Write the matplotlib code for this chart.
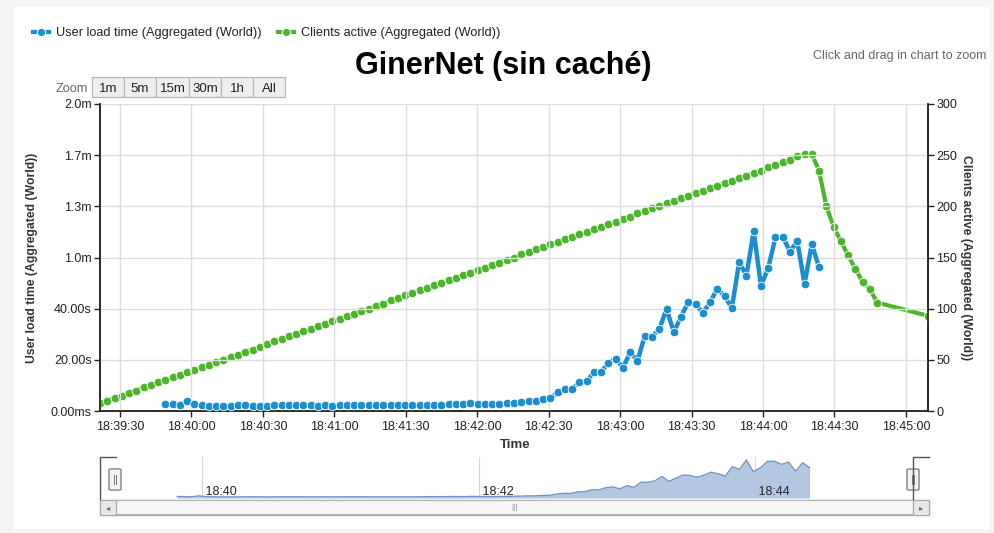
import pandas as pd
import matplotlib
matplotlib.use("Agg")
import matplotlib.pyplot as plt
import matplotlib.dates as mdates
from matplotlib.patches import Rectangle, FancyBboxPatch
from matplotlib.lines import Line2D

plt.rcParams['font.family'] = ['Liberation Sans', 'DejaVu Sans']

# Sampling grid: one sample roughly every 3 s
sample_start = pd.Timestamp("2013-05-10 18:39:21.6")
sample_step_s = 3.05

# Clients active (Aggregated (World)) -> right axis
clients_samples = list(range(0, 108)) + [114]
clients_active = [
    8, 10, 13, 15, 18, 20, 23, 25, 28, 30,
    33, 35, 38, 40, 43, 45, 48, 50, 53, 55,
    58, 60, 63, 65, 68, 70, 73, 75, 78, 80,
    83, 85, 88, 90, 93, 95, 98, 100, 103, 105,
    108, 110, 113, 115, 118, 120, 123, 125, 128, 130,
    133, 135, 138, 140, 143, 145, 148, 150, 153, 155,
    158, 160, 163, 165, 168, 170, 173, 175, 178, 180,
    183, 185, 188, 190, 193, 195, 198, 200, 203, 205,
    208, 210, 213, 215, 218, 220, 223, 225, 228, 230,
    233, 235, 238, 240, 243, 245, 249, 251, 251, 235,
    200, 180, 166, 152, 139, 126, 119, 106,
    93,
]

# User load time (Aggregated (World)) in seconds -> left axis
load_samples = list(range(9, 100))
load_time_s = [
    2.7, 2.6, 2.2, 3.9, 2.7, 2.2, 2.1, 2.1, 2.1, 2.1,
    2.3, 2.2, 2.1, 2.1, 2.1, 2.3, 2.2, 2.3, 2.2, 2.2,
    2.2, 2.1, 2.2, 2.1, 2.3, 2.3, 2.3, 2.2, 2.2, 2.2,
    2.2, 2.2, 2.2, 2.2, 2.2, 2.3, 2.5, 2.5, 2.5, 2.7,
    2.6, 2.6, 3.0, 2.7, 2.7, 2.6, 2.7, 3.0, 3.2, 3.5,
    4.0, 3.9, 4.8, 4.9, 7.3, 8.6, 8.5, 11.3, 11.6, 15.1,
    15.2, 18.9, 20.5, 16.9, 22.9, 19.7, 29.3, 29.1, 31.9, 39.9,
    30.8, 36.9, 42.6, 41.7, 38.4, 42.5, 47.8, 44.8, 40.3, 58.2,
    52.9, 70.4, 48.9, 55.9, 67.9, 68.1, 62.3, 66.5, 49.6, 65.2, 56.2,
]

left_ticks = [0, 20, 40, 60, 80, 100, 120]
left_tick_labels = ['0.00ms', '20.00s', '40.00s', '1.0m', '1.3m', '1.7m', '2.0m']
right_ticks = [0, 50, 100, 150, 200, 250, 300]
zoom_buttons = ['1m', '5m', '15m', '30m', '1h', 'All']
nav_labels = ['18:40', '18:42', '18:44']

title = 'GinerNet (sin caché)'
blue_name = 'User load time (Aggregated (World))'
green_name = 'Clients active (Aggregated (World))'

BLUE = '#1a8ecf'
GREEN = '#4cb52b'
GRID = '#dcdcdc'
TXT = '#333333'

W, H = 994, 533


def to_times(samples):
    return [sample_start + pd.Timedelta(seconds=s * sample_step_s) for s in samples]


def frect(x0, y0, x1, y1):
    return [x0 / W, 1 - y1 / H, (x1 - x0) / W, (y1 - y0) / H]


def fx(x):
    return x / W


def fy(y):
    return 1 - y / H


clients_t = to_times(clients_samples)
load_t = to_times(load_samples)

fig = plt.figure(figsize=(W / 100, H / 100), dpi=100)
fig.patch.set_facecolor('#f5f5f5')
fig.patches.append(Rectangle((fx(14), fy(529)), fx(976), 522 / H, transform=fig.transFigure,
                             facecolor='white', edgecolor='none', zorder=-5))

# ---- main chart
ax = fig.add_axes(frect(100, 104, 928, 411))
ax2 = ax.twinx()
ax.set_zorder(ax2.get_zorder() + 1)
ax.patch.set_visible(False)

ax2.plot(clients_t, clients_active, color=GREEN, lw=3, marker='o', ms=6.2,
         mec='white', mew=0.6, solid_capstyle='round', zorder=3)
ax.plot(load_t, load_time_s, color=BLUE, lw=3.2, marker='o', ms=6.2,
        mec='white', mew=0.6, solid_capstyle='round', zorder=3)

xmin, xmax = clients_t[0], clients_t[-1]
ax.set_xlim(xmin, xmax)
ax.set_ylim(0, 120)
ax2.set_ylim(0, 300)

ax.xaxis.set_major_locator(mdates.SecondLocator(bysecond=[0, 30]))
ax.xaxis.set_major_formatter(mdates.DateFormatter('%H:%M:%S'))
ax.set_yticks(left_ticks)
ax.set_yticklabels(left_tick_labels)
ax2.set_yticks(right_ticks)

ax.grid(True, color=GRID, lw=1)
ax.set_axisbelow(True)
for a in (ax, ax2):
    a.spines['top'].set_visible(False)
    for s in ('left', 'right', 'bottom'):
        a.spines[s].set_color('#222222')
        a.spines[s].set_linewidth(1.1)
    a.tick_params(labelsize=9, colors='#222222', length=4, width=1, pad=2)
ax.tick_params(axis='x', pad=3)

ax.set_ylabel(blue_name, fontsize=8.8, fontweight='bold', color=TXT)
ax.yaxis.set_label_coords(-0.075, 0.5)
ax2.set_ylabel(green_name, fontsize=8.8, fontweight='bold', color=TXT, rotation=-90)
ax2.yaxis.set_label_coords(1.053, 0.5)
ax.set_xlabel('Time', fontsize=9.5, fontweight='bold', color=TXT)
ax.xaxis.set_label_coords(0.501, -0.09)

fig.text(fx(503), fy(66), title, fontsize=22, fontweight='bold', ha='center', va='center',
         color='black')
fig.text(fx(986), fy(56), 'Click and drag in chart to zoom', fontsize=9, color='#666666',
         ha='right', va='center')

# ---- legend
for x0, color, label in ((33, BLUE, blue_name), (278, GREEN, green_name)):
    fig.add_artist(Line2D([fx(x0), fx(x0 + 16)], [fy(32), fy(32)], color=color, lw=3,
                          transform=fig.transFigure))
    fig.add_artist(Line2D([fx(x0 + 8)], [fy(32)], color=color, marker='o', ms=6,
                          mec='white', mew=0.8, transform=fig.transFigure))
    fig.text(fx(x0 + 23), fy(32.5), label, fontsize=9.2, color='#222222', va='center')

# ---- zoom buttons
fig.text(fx(88), fy(88.5), 'Zoom', fontsize=9.2, color='#666666', ha='right', va='center')
edges = [92, 124, 156, 189, 221, 253, 285]
for i, lab in enumerate(zoom_buttons):
    fig.patches.append(Rectangle((fx(edges[i]), fy(97)), (edges[i + 1] - edges[i]) / W, 20 / H,
                                 transform=fig.transFigure, facecolor='#eeeeee',
                                 edgecolor='#b8b8b8', lw=0.9))
    fig.text(fx((edges[i] + edges[i + 1]) / 2), fy(88.5), lab, fontsize=9.5, color='#222222',
             ha='center', va='center')

# ---- navigator
nav = fig.add_axes(frect(114, 457, 915, 498))
nav.fill_between(load_t, load_time_s, 0, color='#b4c7e0', lw=0)
nav.plot(load_t, load_time_s, color='#7594c3', lw=1)
nav.set_xlim(xmin, xmax)
nav.set_ylim(0, 76)
for s in nav.spines.values():
    s.set_visible(False)
nav.set_yticks([])
nav.xaxis.set_major_locator(mdates.MinuteLocator(byminute=[40, 42, 44]))
nav.set_xticklabels([])
nav.tick_params(axis='x', length=0)
nav.grid(True, axis='x', color='#d6d6d6', lw=0.8)
nav.set_axisbelow(True)
for lab, tk in zip(nav_labels, nav.get_xticks()):
    nav.text(tk, 11, ' ' + lab, fontsize=9, color='#222222', ha='left', va='center')

# navigator outline and handles
fig.add_artist(Line2D([fx(116), fx(100), fx(100)], [fy(457), fy(457), fy(499)],
                      color='#555555', lw=1, transform=fig.transFigure))
fig.add_artist(Line2D([fx(929), fx(913), fx(913)], [fy(457), fy(457), fy(499)],
                      color='#555555', lw=1, transform=fig.transFigure))
for hx in (115, 913):
    fig.patches.append(FancyBboxPatch((fx(hx - 4), fy(489)), 8 / W, 19 / H,
                                      boxstyle='round,pad=0.002', transform=fig.transFigure,
                                      facecolor='#f4f4f4', edgecolor='#777777', lw=0.9))
    for dx in (-1.2, 1.2):
        fig.add_artist(Line2D([fx(hx + dx), fx(hx + dx)], [fy(475), fy(484)], color='#777777',
                              lw=0.7, transform=fig.transFigure))

# scrollbar
fig.patches.append(Rectangle((fx(100), fy(515)), 829 / W, 15 / H, transform=fig.transFigure,
                             facecolor='#eeeeee', edgecolor='#aaaaaa', lw=0.9))
fig.patches.append(FancyBboxPatch((fx(116), fy(514)), 797 / W, 13 / H,
                                  boxstyle='round,pad=0.001', transform=fig.transFigure,
                                  facecolor='#f6f6f6', edgecolor='#b5b5b5', lw=0.9))
for bx in (100, 913):
    fig.patches.append(Rectangle((fx(bx), fy(515)), 16 / W, 15 / H, transform=fig.transFigure,
                                 facecolor='#e8e8e8', edgecolor='#aaaaaa', lw=0.9))
fig.text(fx(108), fy(507.5), '◂', fontsize=6, color='#666666', ha='center', va='center',
         family='DejaVu Sans')
fig.text(fx(921), fy(507.5), '▸', fontsize=6, color='#666666', ha='center', va='center',
         family='DejaVu Sans')
fig.text(fx(514), fy(507.5), '|||', fontsize=6, color='#888888', ha='center', va='center')

fig.savefig('out.png', dpi=100, facecolor=fig.get_facecolor())
